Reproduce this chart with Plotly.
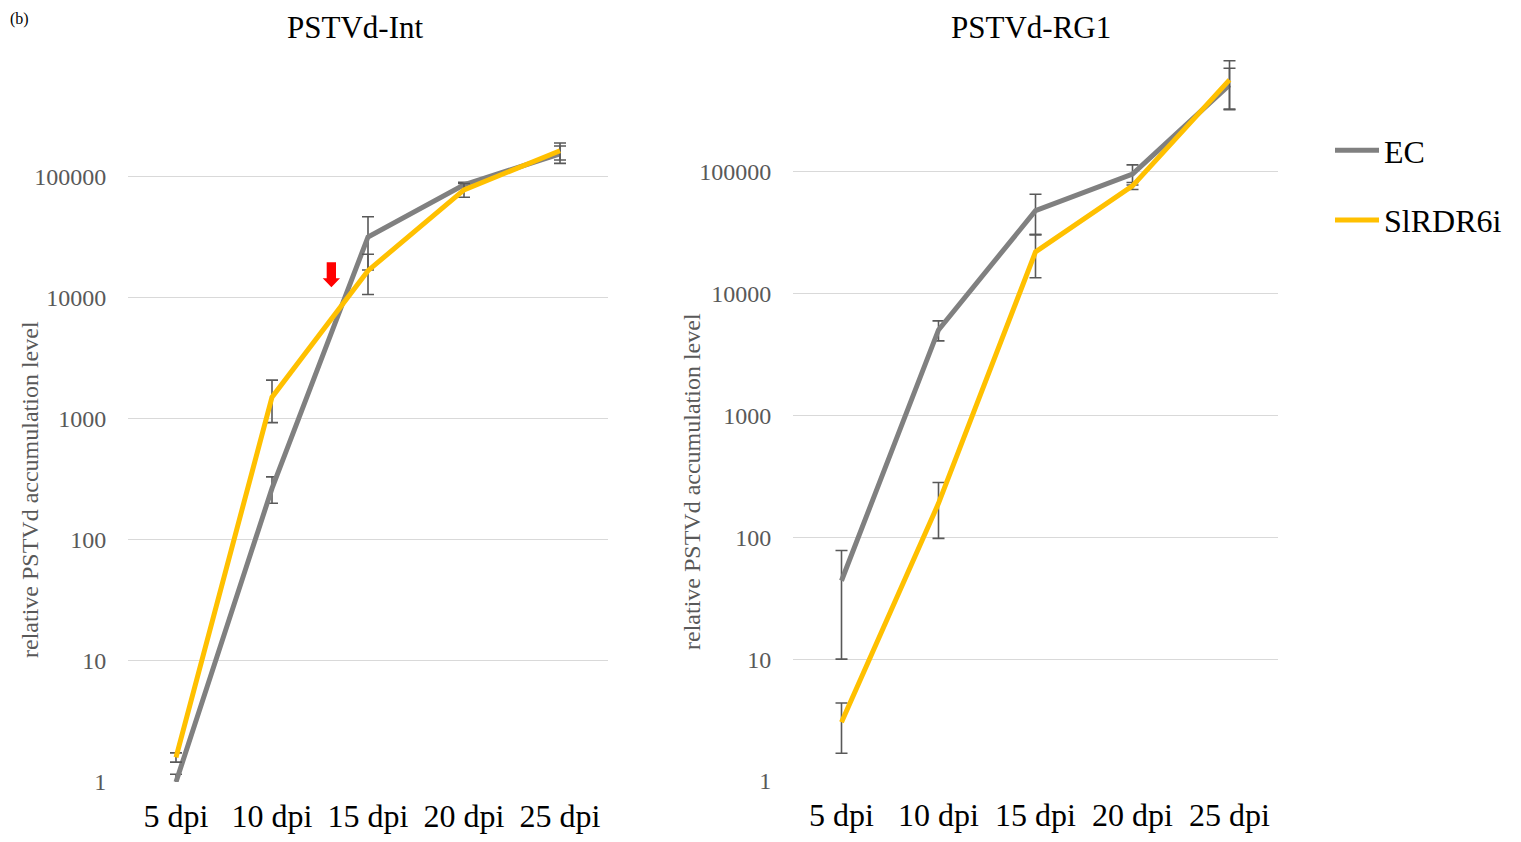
import plotly.graph_objects as go

W, H = 1521, 842
OFF = 8  # page body margin in the screenshot

categories = ["5 dpi", "10 dpi", "15 dpi", "20 dpi", "25 dpi"]
series_names = ["EC", "SlRDR6i"]

# PSTVd-Int
int_ec = [1.0, 265, 31500, 85000, 152500]
int_ec_err = [0.16, 65, 14700, 4000, 25000]
int_rdr = [1.6, 1500, 16600, 77000, 162000]
int_rdr_err = [0.14, 575, 6050, 10000, 26000]

# PSTVd-RG1
rg1_ec = [44, 5040, 48000, 96000, 518000]
rg1_ec_err = [34, 940, 17500, 18000, 190000]
rg1_rdr = [3.03, 190, 22000, 76700, 569000]
rg1_rdr_err = [1.34, 92, 8500, 5000, 246000]

y_tickvals = [1, 10, 100, 1000, 10000, 100000]
y_ticktext = ["1", "10", "100", "1000", "10000", "100000"]

colors = {"EC": "#808080", "SlRDR6i": "#FFC000"}
ERR_COLOR = "#595959"
FONT = "Liberation Serif, Times New Roman, serif"


def px_x(p):
    return (p - OFF) / W


def px_y(p):
    return 1 - (p - OFF) / H


fig = go.Figure()

panels = [
    ("x", "y", int_ec, int_ec_err, int_rdr, int_rdr_err, True),
    ("x2", "y2", rg1_ec, rg1_ec_err, rg1_rdr, rg1_rdr_err, False),
]
for xa, ya, ec, ec_e, rdr, rdr_e, show in panels:
    for name, vals, errs in [("EC", ec, ec_e), ("SlRDR6i", rdr, rdr_e)]:
        fig.add_trace(go.Scatter(
            x=categories, y=vals, name=name, mode="lines",
            line=dict(color=colors[name], width=5),
            error_y=dict(type="data", array=errs, visible=True,
                         color=ERR_COLOR, thickness=1.6, width=6),
            xaxis=xa, yaxis=ya, showlegend=show, legendgroup=name,
        ))

axis_common_x = dict(
    type="category", range=[-0.5, 4.5], automargin=False,
    showgrid=False, zeroline=False, showline=False,
    ticks="outside", ticklen=6, tickcolor="rgba(0,0,0,0)",
    tickfont=dict(family=FONT, size=32, color="#000000"),
)
axis_common_y = dict(
    type="log", range=[0, 6], tickvals=y_tickvals, ticktext=y_ticktext,
    automargin=False,
    showgrid=True, gridcolor="#D9D9D9", gridwidth=1.3, zeroline=False,
    showline=False, ticks="outside", ticklen=16, tickcolor="rgba(0,0,0,0)",
    tickfont=dict(family=FONT, size=24, color="#595959"),
)

fig.update_layout(
    width=W, height=H,
    margin=dict(l=0, r=0, t=0, b=0, autoexpand=False),
    paper_bgcolor="white", plot_bgcolor="white",
    xaxis=dict(domain=[px_x(128), px_x(608)], anchor="y", **axis_common_x),
    yaxis=dict(domain=[px_y(782), px_y(55)], anchor="x", **axis_common_y),
    xaxis2=dict(domain=[px_x(793), px_x(1278)], anchor="y2", **axis_common_x),
    yaxis2=dict(domain=[px_y(781), px_y(50)], anchor="x2", **axis_common_y),
    legend=dict(x=px_x(1330), y=px_y(123), xanchor="left", yanchor="top",
                font=dict(family=FONT, size=32, color="#000000"),
                itemwidth=44,
                tracegroupgap=25, bgcolor="rgba(0,0,0,0)"),
    showlegend=True,
)

annotations = [
    dict(text="PSTVd-Int", x=px_x(355), y=1, xref="paper", yref="paper",
         xanchor="center", yanchor="top",
         showarrow=False, font=dict(family=FONT, size=31, color="#000000")),
    dict(text="PSTVd-RG1", x=px_x(1031), y=1, xref="paper", yref="paper",
         xanchor="center", yanchor="top",
         showarrow=False, font=dict(family=FONT, size=31, color="#000000")),
    dict(text="relative PSTVd accumulation level", x=px_x(30), y=px_y(490),
         xref="paper", yref="paper", showarrow=False, textangle=-90,
         xanchor="center", yanchor="middle",
         font=dict(family=FONT, size=24, color="#595959")),
    dict(text="relative PSTVd accumulation level", x=px_x(692), y=px_y(482),
         xref="paper", yref="paper", showarrow=False, textangle=-90,
         xanchor="center", yanchor="middle",
         font=dict(family=FONT, size=24, color="#595959")),
    dict(text="(b)", x=0, y=1, xref="paper", yref="paper",
         xanchor="left", yanchor="top", showarrow=False,
         font=dict(family=FONT, size=16, color="#000000")),
]
fig.update_layout(annotations=annotations)

# red block arrow (decoration), in paper coordinates
pts = [(326.7, 262.3), (336, 262.3), (336, 278.3), (340, 278.3),
       (331.4, 287.3), (322.7, 278.3), (326.7, 278.3)]
path = "M " + " L ".join(f"{px_x(a):.5f},{px_y(b):.5f}" for a, b in pts) + " Z"
fig.add_shape(type="path", path=path, xref="paper", yref="paper",
              fillcolor="#FF0000", line=dict(width=0))

fig.write_html("out.html")
